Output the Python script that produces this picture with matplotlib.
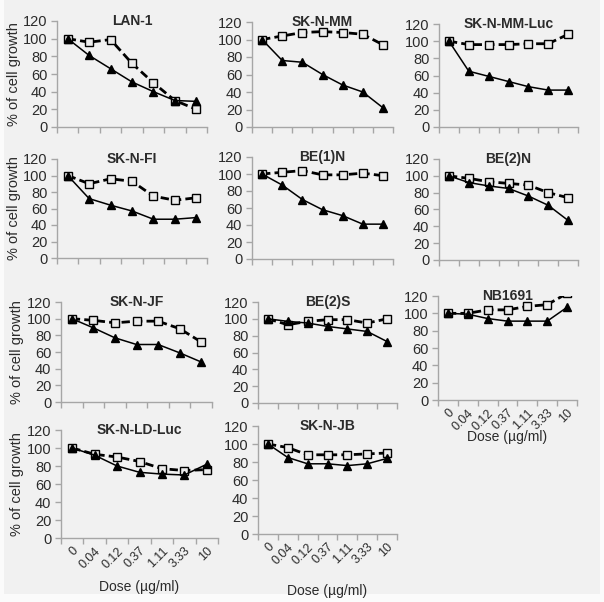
import matplotlib
matplotlib.use("Agg")
import matplotlib.pyplot as plt
from matplotlib.patches import Rectangle

plt.rcParams['font.family'] = ['Liberation Sans', 'DejaVu Sans']

# dose categories
doses = ['0', '0.04', '0.12', '0.37', '1.11', '3.33', '10']

cell_lines = ['LAN-1', 'SK-N-MM', 'SK-N-MM-Luc',
              'SK-N-FI', 'BE(1)N', 'BE(2)N',
              'SK-N-JF', 'BE(2)S', 'NB1691',
              'SK-N-LD-Luc', 'SK-N-JB']

# solid line, filled triangles
treated = {
    'LAN-1':       [100, 81, 66, 51, 40, 30, 29],
    'SK-N-MM':     [100, 76, 74, 60, 48, 40, 22],
    'SK-N-MM-Luc': [100, 65, 59, 53, 47, 43, 43],
    'SK-N-FI':     [100, 72, 64, 57, 47, 47, 49],
    'BE(1)N':      [100, 87, 70, 58, 51, 41, 41],
    'BE(2)N':      [100, 92, 88, 85, 76, 65, 47],
    'SK-N-JF':     [100, 89, 77, 69, 69, 59, 48],
    'BE(2)S':      [100, 97, 95, 91, 88, 85, 73],
    'NB1691':      [100, 99, 94, 91, 91, 91, 107],
    'SK-N-LD-Luc': [100, 92, 80, 73, 71, 70, 82],
    'SK-N-JB':     [100, 85, 78, 78, 76, 78, 84],
}

# dashed line, open squares
control = {
    'LAN-1':       [100, 96, 99, 72, 50, 30, 20],
    'SK-N-MM':     [100, 104, 108, 109, 108, 106, 94],
    'SK-N-MM-Luc': [100, 96, 96, 96, 97, 97, 108],
    'SK-N-FI':     [100, 90, 96, 93, 75, 70, 73],
    'BE(1)N':      [100, 102, 104, 99, 99, 101, 98],
    'BE(2)N':      [100, 97, 93, 91, 89, 80, 74],
    'SK-N-JF':     [100, 98, 95, 97, 97, 88, 72],
    'BE(2)S':      [100, 93, 97, 99, 99, 95, 100],
    'NB1691':      [100, 100, 104, 104, 108, 110, 123],
    'SK-N-LD-Luc': [100, 93, 90, 85, 77, 75, 76],
    'SK-N-JB':     [100, 96, 88, 88, 88, 89, 90],
}

# panel box in pixels: left, top, right, bottom
boxes = {
    'LAN-1':       (57, 21, 207, 127),
    'SK-N-MM':     (252, 22, 393, 127),
    'SK-N-MM-Luc': (439, 24, 578, 127),
    'SK-N-FI':     (57, 159, 207, 258),
    'BE(1)N':      (252, 157, 393, 259),
    'BE(2)N':      (439, 159, 578, 260),
    'SK-N-JF':     (61, 302, 212, 402),
    'BE(2)S':      (258, 302, 397, 403),
    'NB1691':      (438, 296, 577, 400),
    'SK-N-LD-Luc': (61, 430, 218, 538),
    'SK-N-JB':     (258, 426, 397, 534),
}
# x (px) of the right edge of the rotated y label
ylabel_edge = {'LAN-1': 21, 'SK-N-FI': 21, 'SK-N-JF': 24, 'SK-N-LD-Luc': 24}
# distance (px) of the top of the dose label below the x axis
dose_label_drop = {'NB1691': 30, 'SK-N-LD-Luc': 42, 'SK-N-JB': 50}

W, H = 604, 602
fig = plt.figure(figsize=(W / 100, H / 100), dpi=100)
fig.patch.set_facecolor('#fbfbfb')
fig.patches.append(Rectangle((4 / W, 1 - 594 / H), 596 / W, 594 / H,
                             transform=fig.transFigure, facecolor='#f1f1f1',
                             edgecolor='none', zorder=-10))

axis_col = '#a6a6a6'
txt_col = '#2b2b2b'
x = list(range(len(doses)))

for name in cell_lines:
    l, t, r, b = boxes[name]
    ax = fig.add_axes([l / W, 1 - b / H, (r - l) / W, (b - t) / H])
    ax.set_facecolor('none')
    ax.plot(x, control[name], color='black', lw=2.0, ls=(0, (3, 1.5)),
            marker='s', ms=5.5, mfc='#ececec', mec='black', mew=1.0)
    ax.plot(x, treated[name], color='black', lw=1.1,
            marker='^', ms=6, mfc='black', mec='black')
    ax.set_xlim(-0.5, 6.5)
    ax.set_ylim(0, 120)
    ax.set_yticks(range(0, 121, 20))
    ax.set_xticks([i - 0.5 for i in range(8)])
    ax.set_xticklabels([])
    for s in ['top', 'right']:
        ax.spines[s].set_visible(False)
    for s in ['left', 'bottom']:
        ax.spines[s].set_color(axis_col)
        ax.spines[s].set_linewidth(1.0)
    ax.tick_params(colors=axis_col, length=4, width=1, labelsize=10.5,
                   labelcolor=txt_col, pad=3)
    ax.text(0.5, 1.0, name, transform=ax.transAxes, ha='center', va='center',
            fontsize=10, fontweight='bold', color=txt_col)
    if name in ylabel_edge:
        ax.set_ylabel('% of cell growth', fontsize=10.5, color=txt_col)
        ax.yaxis.set_label_coords((ylabel_edge[name] - l) / (r - l), 0.5)
    if name in dose_label_drop:
        ax.set_xticks(x, minor=True)
        ax.set_xticklabels(doses, minor=True, rotation=45, ha='right',
                           rotation_mode='anchor', fontsize=9, color=txt_col)
        ax.tick_params(axis='x', which='minor', length=0, pad=5)
        ax.set_xlabel('Dose (\u00b5g/ml)', fontsize=10, color=txt_col)
        ax.xaxis.set_label_coords(0.5, -dose_label_drop[name] / (b - t))

fig.savefig('out.png', dpi=100, facecolor=fig.get_facecolor())
